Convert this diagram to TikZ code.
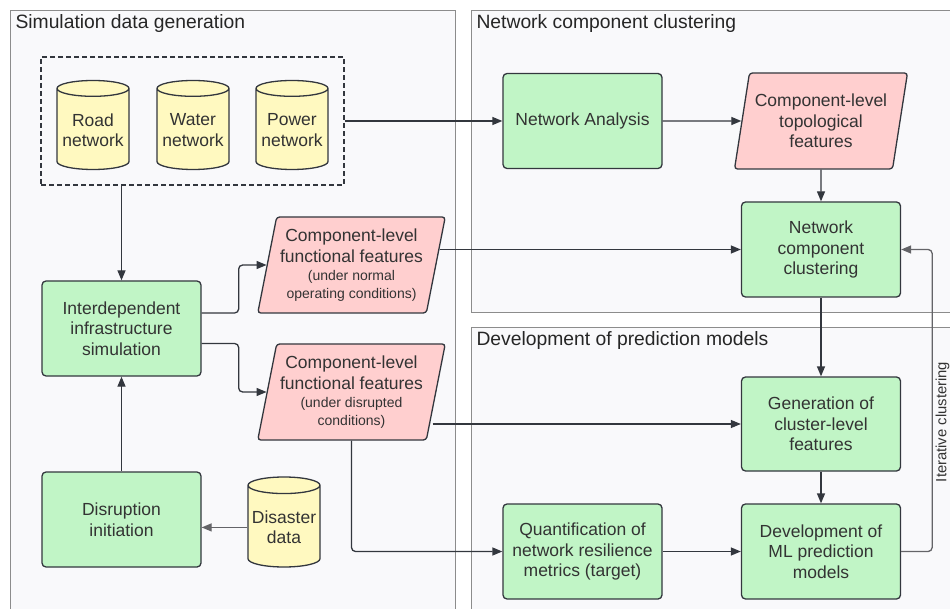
\documentclass[tikz,border=0pt]{standalone}
\usepackage{fontspec}
\setmainfont{Liberation Sans}
\usepackage{xcolor}
\usepackage{tikz}
\usetikzlibrary{shapes.geometric,arrows.meta}
\definecolor{procgreen}{RGB}{193,245,198}
\definecolor{datapink}{RGB}{255,207,207}
\definecolor{dbyellow}{RGB}{255,249,192}
\definecolor{darkline}{RGB}{51,55,62}
\definecolor{panelfill}{RGB}{249,249,251}
\definecolor{panelline}{RGB}{140,140,140}
\definecolor{loopgray}{RGB}{100,100,104}

\begin{document}
\begin{tikzpicture}[x=1pt,y=-1pt,
  panel/.style={draw=panelline, fill=panelfill, line width=1pt},
  title/.style={anchor=west, font=\fontsize{19.3}{22}\selectfont, text=black!85},
  proc/.style={draw=darkline, fill=procgreen, line width=1.3pt, rounded corners=4pt,
    minimum width=159pt, minimum height=95pt, align=center, text=black!80,
    font=\fontsize{17.5}{20.5}\selectfont},
  data/.style={trapezium, trapezium left angle=76.5, trapezium right angle=103.5,
    trapezium stretches=true, draw=darkline, fill=datapink, line width=1.3pt,
    rounded corners=3pt, minimum width=173pt, minimum height=96pt, align=center,
    text=black!80, font=\fontsize{17.5}{20.5}\selectfont},
  db/.style={cylinder, shape border rotate=90, aspect=0.25, draw=darkline,
    fill=dbyellow, line width=1.3pt, minimum width=72pt, minimum height=89pt,
    align=center, inner sep=1pt, text=black!80, font=\fontsize{17.5}{20.5}\selectfont,
    anchor=shape center},
  flow/.style={draw=darkline, line width=1.3pt, rounded corners=4pt,
    -{Triangle[length=10pt,width=8pt]}},
  loop/.style={draw=loopgray, line width=1.3pt, rounded corners=4pt,
    -{Triangle[length=10pt,width=8pt]}},
  small/.style={font=\fontsize{14}{17}\selectfont}]
\clip (0,0) rectangle (950,609);
% Panels
\draw[panel] (10,11) rectangle (455,625);
\draw[panel] (471,11) rectangle (965,313);
\draw[panel] (471,328) rectangle (965,625);
\node[title] (t1) at (12,24) {Simulation data generation};
\node[title] (t2) at (473,24) {Network component clustering};
\node[title] (t3) at (473,341) {Development of prediction models};
% Network data
\node[draw=darkline, dash pattern=on 5pt off 3pt, line width=1.2pt, minimum width=303pt, minimum height=128pt] (nets) at (192.5,121) {};
\node[db] (road) at (93,125) {Road\\network};
\node[db] (water) at (193,125) {Water\\network};
\node[db] (power) at (292,125) {Power\\network};
% Simulation side
\node[proc] (sim) at (121.5,328.5) {Interdependent\\infrastructure\\simulation};
\node[proc] (init) at (121.5,519.5) {Disruption\\initiation};
\node[db, minimum height=90pt] (disaster) at (284,522) {Disaster\\data};
\node[data] (normal) at (351.5,265) {Component-level\\functional features\\[-2pt]{\fontsize{14}{17}\selectfont(under normal}\\[-3pt]{\fontsize{14}{17}\selectfont operating conditions)}};
\node[data] (disr) at (351.5,392) {Component-level\\functional features\\[-2pt]{\fontsize{14}{17}\selectfont(under disrupted}\\[-3pt]{\fontsize{14}{17}\selectfont conditions)}};
% Clustering side
\node[proc] (na) at (582.5,121) {Network Analysis};
\node[data] (topo) at (821,121) {Component-level\\topological\\features};
\node[proc] (ncc) at (821,249.5) {Network\\component\\clustering};
% Prediction side
\node[proc, minimum height=94pt] (gen) at (821,424) {Generation of\\cluster-level\\features};
\node[proc] (ml) at (821,551.5) {Development of\\ML prediction\\models};
\node[proc] (quant) at (582.5,551.5) {Quantification of\\network resilience\\metrics (target)};
% Arrows
\draw[flow] (nets.east) -- (na.west);
\draw[flow] (na.east) -- (topo.west);
\draw[flow] (topo.south) -- (ncc.north);
\draw[flow] (nets.south -| sim.north) -- (sim.north);
\draw[flow] ([yshift=15.5pt]sim.east) -- ++(37,0) |- (normal.west);
\draw[flow] ([yshift=-15pt]sim.east) -- ++(37,0) |- (disr.west);
\draw[flow] ([xshift=3.5pt]ncc.west -| normal.east) -- (ncc.west);
\draw[flow] ([xshift=-3.8pt]gen.west -| disr.east) -- (gen.west);
\draw[flow] (disr.south) |- (quant.west);
\draw[flow] (quant.east) -- (ml.west);
\draw[flow] (ncc.south) -- (gen.north);
\draw[flow] (gen.south) -- (ml.north);
\draw[flow] (init.north) -- (sim.south);
\draw[loop] (disaster.west) -- (disaster.west -| init.east);
\draw[loop] (ml.east) -- ++(31,0) |- (ncc.east);
\node[rotate=90, font=\fontsize{14.8}{17}\selectfont, text=black!80] (iterlbl) at (942.5,422) {Iterative clustering};
\end{tikzpicture}
\end{document}
